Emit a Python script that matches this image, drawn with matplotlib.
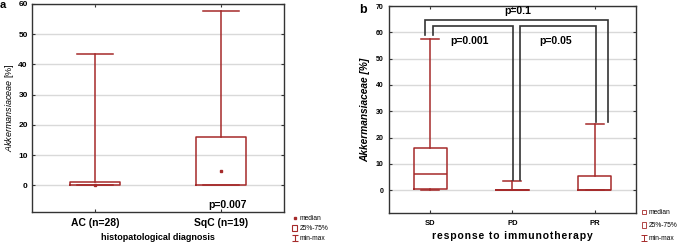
import matplotlib
matplotlib.use('Agg')
import matplotlib.pyplot as plt
from matplotlib.lines import Line2D
from matplotlib.patches import Patch
from matplotlib.path import Path

plt.rcParams['font.family'] = ['Liberation Sans', 'DejaVu Sans']
plt.rcParams['mathtext.fontset'] = 'custom'
plt.rcParams['mathtext.it'] = 'Liberation Sans:italic'
plt.rcParams['mathtext.rm'] = 'Liberation Sans'

# panel a: histopathological diagnosis
groups_a = ['AC (n=28)', 'SqC (n=19)']
min_a = [0, 0]
q1_a = [0, 0]
med_a = [0.3, 4.6]
q3_a = [1.2, 16]
max_a = [43.5, 57.6]

# panel b: response to immunotherapy
groups_b = ['SD', 'PD', 'PR']
min_b = [0, 0, 0]
q1_b = [0.5, 0, 0]
med_b = [6, 0, 0]
q3_b = [16, 0, 5.5]
max_b = [57.5, 3.3, 25]

# brackets: (left group, right group, top, left bottom, right bottom, label)
brackets = [(0, 1, 62.4, 59, 3.8, 'p=0.001'),
            (1, 2, 62.4, 3.8, 26, 'p=0.05'),
            (0, 2, 64.7, 59, 26, 'p=0.1')]

red = '#a52a2a'
frame = '#333333'

fig = plt.figure(figsize=(6.85, 2.44), dpi=100)
ax_a = fig.add_axes([0.0467, 0.131, 0.368, 0.853])
ax_b = fig.add_axes([0.568, 0.128, 0.36, 0.847])


def stats(mins, q1s, meds, q3s, maxs):
    return [dict(whislo=a, q1=b, med=c, q3=d, whishi=e, mean=c, fliers=[])
            for a, b, c, d, e in zip(mins, q1s, meds, q3s, maxs)]


lp = dict(color=red, linewidth=1.1)
ax_a.bxp(stats(min_a, q1_a, med_a, q3_a, max_a), positions=range(len(groups_a)),
         widths=0.4, capwidths=0.28, showmeans=True, showfliers=False,
         boxprops=lp, whiskerprops=lp, capprops=lp,
         medianprops=dict(linewidth=0),
         meanprops=dict(marker='s', markersize=2, markerfacecolor=red, markeredgecolor=red))

ax_b.bxp(stats(min_b, q1_b, med_b, q3_b, max_b), positions=range(len(groups_b)),
         widths=0.4, capwidths=0.22, showfliers=False,
         boxprops=lp, whiskerprops=lp, capprops=lp,
         medianprops=lp)

for ax in (ax_a, ax_b):
    ax.set_axisbelow(True)
    ax.yaxis.grid(True, color='#d9d9d9', linewidth=1.0)
    for s in ax.spines.values():
        s.set_color(frame)
        s.set_linewidth(1.0)
    ax.tick_params(direction='in', top=True, right=True, length=2.5, width=0.8, color=frame)

ax_a.set_xlim(-0.5, 1.5)
ax_a.set_ylim(-8.8, 60)
ax_a.set_yticks(range(0, 61, 10))
ax_a.set_xticks(range(len(groups_a)))
ax_a.set_xticklabels(groups_a, fontsize=7.5, fontweight='bold')
ax_a.tick_params(axis='y', labelsize=6, pad=3)
ax_a.tick_params(axis='x', pad=4)
for lab in ax_a.get_yticklabels():
    lab.set_fontweight('bold')
ax_a.set_xlabel('histopatological diagnosis', fontsize=6.5, fontweight='bold', labelpad=4)
ax_a.set_ylabel(r'$\mathit{Akkermansiaceae}$ [%]', fontsize=6.5, labelpad=2)
ax_a.text(1.055, -6.5, 'p=0.007', fontsize=7.5, fontweight='bold', ha='center', va='center')

ax_b.set_xlim(-0.5, 2.5)
ax_b.set_ylim(-8.6, 70)
ax_b.set_yticks(range(0, 71, 10))
ax_b.set_xticks(range(len(groups_b)))
ax_b.set_xticklabels(groups_b, fontsize=5.5, fontweight='bold')
ax_b.tick_params(axis='y', labelsize=5, pad=4)
ax_b.tick_params(axis='x', pad=5)
for lab in ax_b.get_yticklabels():
    lab.set_fontweight('bold')
ax_b.set_xlabel('\u200a'.join('response to immunotherapy'),
                fontsize=7.5, fontweight='bold', labelpad=3)
ax_b.set_ylabel('Akkermansiaceae [%]', fontsize=7.3, fontweight='bold', style='italic', labelpad=4)

# bracket leg offsets from the group centres
offsets = {(0, 1): (0.04, 0.01), (1, 2): (0.095, 0.02), (0, 2): (-0.06, 0.165)}
label_pos = {'p=0.001': (0.48, 56.8), 'p=0.05': (1.52, 56.8), 'p=0.1': (1.07, 68)}
for i, j, top, yb0, yb1, lab in brackets:
    o0, o1 = offsets[(i, j)]
    x0, x1 = i + o0, j + o1
    ax_b.plot([x0, x0, x1, x1], [yb0, top, top, yb1], color=frame, linewidth=1.2,
              solid_joinstyle='miter', clip_on=False)
    tx, ty = label_pos[lab]
    ax_b.text(tx, ty, lab, fontsize=7.5, fontweight='bold', ha='center', va='center')

# legends
minmax = Path([(-1, 1), (1, 1), (0, 1), (0, -1), (-1, -1), (1, -1)],
              [Path.MOVETO, Path.LINETO, Path.MOVETO, Path.LINETO, Path.MOVETO, Path.LINETO])
handles_a = [Line2D([], [], linestyle='none', marker='s', markersize=1.8, color=red),
             Patch(facecolor='white', edgecolor=red, linewidth=0.8),
             Line2D([], [], linestyle='none', marker=minmax, markersize=5,
                    markerfacecolor='none', markeredgecolor=red, markeredgewidth=0.8)]
labels_leg = ['median', '25%-75%', 'min-max']
fig.legend(handles_a, labels_leg, loc='lower left', bbox_to_anchor=(288 / 685, -0.01),
           frameon=False, fontsize=4.8, handlelength=0.8, handleheight=0.9,
           handletextpad=0.4, labelspacing=0.45, borderpad=0.1)
handles_b = [Line2D([], [], linestyle='none', marker='s', markersize=2.2,
                    markerfacecolor='none', markeredgecolor=red, markeredgewidth=0.6),
             Patch(facecolor='white', edgecolor=red, linewidth=0.6),
             Line2D([], [], linestyle='none', marker=minmax, markersize=4,
                    markerfacecolor='none', markeredgecolor=red, markeredgewidth=0.7)]
fig.legend(handles_b, labels_leg, loc='lower left', bbox_to_anchor=(638 / 685, -0.01),
           frameon=False, fontsize=4.8, handlelength=0.6, handleheight=0.9,
           handletextpad=0.4, labelspacing=0.9, borderpad=0.1)

fig.text(0.0, 1.0, 'a', fontsize=8, fontweight='bold', ha='left', va='top')
fig.text(363 / 685, 0.985, 'b', fontsize=9, fontweight='bold', ha='center', va='top')

fig.savefig('out.png', dpi=100)
